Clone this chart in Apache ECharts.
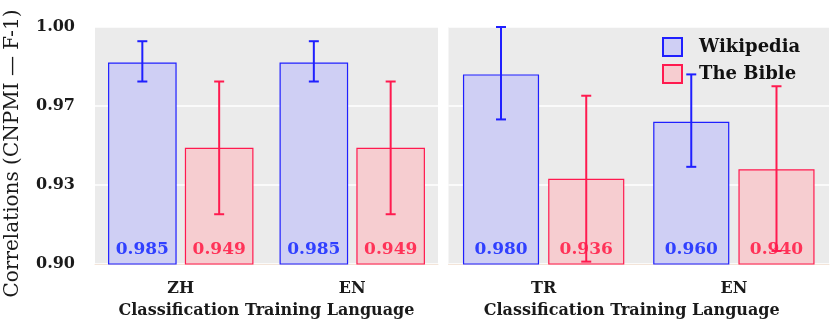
<!DOCTYPE html>
<html>
<head>
<meta charset="utf-8">
<script src="https://cdn.jsdelivr.net/npm/echarts@6/dist/echarts.min.js"></script>
<style>
html,body{margin:0;padding:0;background:#fff;}
#chart{width:830px;height:327px;}
</style>
</head>
<body>
<div id="chart"></div>
<script>
// ---- Data ----
const categoriesLeft = ['ZH', 'EN'];
const categoriesRight = ['TR', 'EN'];
const wikiLeft = [0.985, 0.985];
const bibleLeft = [0.949, 0.949];
const wikiRight = [0.980, 0.960];
const bibleRight = [0.936, 0.940];
const wikiLowLeft = [0.977, 0.977];
const wikiHighLeft = [0.994, 0.994];
const bibleLowLeft = [0.921, 0.921];
const bibleHighLeft = [0.977, 0.977];
const wikiLowRight = [0.961, 0.941];
const wikiHighRight = [1.000, 0.980];
const bibleLowRight = [0.901, 0.9055];
const bibleHighRight = [0.971, 0.975];
const yTicks = [0.90, 0.93, 0.97, 1.00];
const xAxisTitle = 'Classification Training Language';
const yAxisTitle = 'Correlations (CNPMI — F-1)';
const seriesNames = ['Wikipedia', 'The Bible'];

// ---- Styles ----
const BLUE = '#1f1fff';
const RED = '#ff1a4f';
const BLUE_FILL = '#cfcff4';
const RED_FILL = '#f6cdd0';
const BLUE_TEXT = '#3040ff';
const RED_TEXT = '#ff3358';
const SERIF = '"DejaVu Serif", serif';
const BAR_W = 0.40, BAR_GAP = 0.12;

const chart = echarts.init(document.getElementById('chart'));

function errData(lo, hi) {
  return lo.map((v, i) => [i, v, hi[i]]);
}
function errRender(sign, color) {
  return function (params, api) {
    const idx = api.value(0);
    const lo = api.coord([idx, api.value(1)]);
    const hi = api.coord([idx, api.value(2)]);
    const band = api.size([1, 0])[0];
    const bw = band * BAR_W;
    const cx = lo[0] + sign * bw * (1 + BAR_GAP) / 2;
    const cap = 5;
    const st = { stroke: color, lineWidth: 2 };
    return {
      type: 'group',
      children: [
        { type: 'line', shape: { x1: cx, y1: lo[1], x2: cx, y2: hi[1] }, style: st },
        { type: 'line', shape: { x1: cx - cap, y1: lo[1], x2: cx + cap, y2: lo[1] }, style: st },
        { type: 'line', shape: { x1: cx - cap, y1: hi[1], x2: cx + cap, y2: hi[1] }, style: st }
      ]
    };
  };
}
function barSeries(name, data, idx, fill, border, textColor) {
  return {
    name: name, type: 'bar', xAxisIndex: idx, yAxisIndex: idx,
    data: data, barWidth: (BAR_W * 100) + '%', barGap: (BAR_GAP * 100) + '%',
    itemStyle: { color: fill, borderColor: border, borderWidth: 1.2 },
    label: {
      show: true, position: 'insideBottom', distance: 7,
      formatter: p => p.value.toFixed(3),
      fontFamily: SERIF, fontWeight: 'bold', fontSize: 17, color: textColor
    },
    z: 2
  };
}
function errSeries(lo, hi, idx, sign, color) {
  return {
    type: 'custom', xAxisIndex: idx, yAxisIndex: idx,
    data: errData(lo, hi), renderItem: errRender(sign, color),
    encode: { x: 0, y: [1, 2] }, z: 5, silent: true, clip: false
  };
}
function xAxisCfg(idx, cats, padRight) {
  return {
    type: 'category', gridIndex: idx, data: cats,
    axisTick: { show: false },
    axisLine: { show: true, lineStyle: { color: '#f3e4d8', width: 1 } },
    axisLabel: { fontFamily: SERIF, fontWeight: 'bold', fontSize: 16, color: '#1a1a1a', margin: 17 },
    name: xAxisTitle, nameLocation: 'middle', nameGap: 39,
    nameTextStyle: { fontFamily: SERIF, fontWeight: 'bold', fontSize: 16, color: '#1a1a1a', padding: [0, padRight, 0, 0] }
  };
}
function yAxisCfg(idx, showLabels) {
  return {
    type: 'value', gridIndex: idx, min: 0.9, max: 1.0, interval: 1 / 30,
    axisLine: { show: false }, axisTick: { show: false },
    splitLine: { show: true, lineStyle: { color: '#ffffff', width: 1.5 } },
    axisLabel: {
      show: showLabels, margin: 20,
      formatter: v => {
        let best = yTicks[0];
        yTicks.forEach(t => { if (Math.abs(t - v) < Math.abs(best - v)) best = t; });
        return best.toFixed(2);
      },
      fontFamily: SERIF, fontWeight: 'bold', fontSize: 16, color: '#1a1a1a'
    },
    name: showLabels ? yAxisTitle : '', nameLocation: 'middle', nameGap: 72,
    nameTextStyle: { fontFamily: SERIF, fontSize: 20, color: '#1a1a1a', padding: [0, 16, 0, 0] }
  };
}

chart.setOption({
  backgroundColor: '#ffffff',
  animation: false,
  grid: [
    { left: 95, top: 27, width: 343, height: 237, show: true, backgroundColor: '#ebebeb', borderWidth: 0 },
    { left: 448.5, top: 27, width: 380.5, height: 237, show: true, backgroundColor: '#ebebeb', borderWidth: 0 }
  ],
  legend: {
    data: seriesNames, orient: 'vertical', left: 657, top: 32, itemWidth: 19, itemHeight: 18, itemGap: 7,
    icon: 'rect', align: 'left',
    textStyle: { fontFamily: SERIF, fontWeight: 'bold', fontSize: 18, color: '#111', padding: [0, 0, 0, 12] }
  },
  xAxis: [xAxisCfg(0, categoriesLeft, 0), xAxisCfg(1, categoriesRight, 14)],
  yAxis: [yAxisCfg(0, true), yAxisCfg(1, false)],
  series: [
    barSeries(seriesNames[0], wikiLeft, 0, BLUE_FILL, BLUE, BLUE_TEXT),
    barSeries(seriesNames[1], bibleLeft, 0, RED_FILL, RED, RED_TEXT),
    barSeries(seriesNames[0], wikiRight, 1, BLUE_FILL, BLUE, BLUE_TEXT),
    barSeries(seriesNames[1], bibleRight, 1, RED_FILL, RED, RED_TEXT),
    errSeries(wikiLowLeft, wikiHighLeft, 0, -1, BLUE),
    errSeries(bibleLowLeft, bibleHighLeft, 0, 1, RED),
    errSeries(wikiLowRight, wikiHighRight, 1, -1, BLUE),
    errSeries(bibleLowRight, bibleHighRight, 1, 1, RED)
  ]
});
</script>
</body>
</html>
